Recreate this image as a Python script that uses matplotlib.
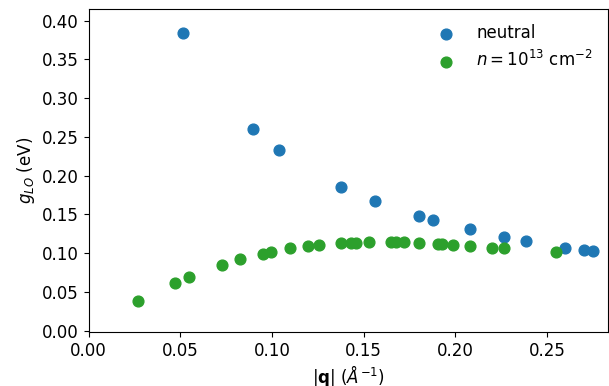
import matplotlib
matplotlib.use('Agg')
import matplotlib.pyplot as plt

# neutral
q_neutral = [0.0516, 0.0897, 0.1037, 0.1376, 0.1560, 0.1800, 0.1876,
             0.2081, 0.2265, 0.2384, 0.2600, 0.2702, 0.2753]
g_neutral = [0.3846, 0.2603, 0.2329, 0.1859, 0.1670, 0.1478, 0.1427,
             0.1308, 0.1214, 0.1163, 0.1073, 0.1042, 0.1026]

# doped, n = 1e13 cm^-2
q_doped = [0.0271, 0.0473, 0.0548, 0.0726, 0.0824, 0.0950, 0.0992,
           0.1099, 0.1197, 0.1259, 0.1376, 0.1430, 0.1456, 0.1530,
           0.1647, 0.1676, 0.1720, 0.1803, 0.1907, 0.1928, 0.1985,
           0.2080, 0.2201, 0.2265, 0.2549]
g_doped = [0.0380, 0.0620, 0.0700, 0.0850, 0.0920, 0.0996, 0.1017,
           0.1064, 0.1094, 0.1107, 0.1130, 0.1137, 0.1137, 0.1141,
           0.1141, 0.1141, 0.1141, 0.1132, 0.1124, 0.1124, 0.1111,
           0.1094, 0.1073, 0.1073, 0.1013]

plt.rcParams['font.size'] = 12

fig, ax = plt.subplots(figsize=(6.09, 3.86), dpi=100)
ax.scatter(q_neutral, g_neutral, s=60, color='#1f77b4', label='neutral')
ax.scatter(q_doped, g_doped, s=60, color='#2ca02c', label=r'$n = 10^{13}$ cm$^{-2}$')

ax.set_xlim(0, 0.2832)
ax.set_ylim(-0.002, 0.415)
ax.set_yticks([0.0, 0.05, 0.10, 0.15, 0.20, 0.25, 0.30, 0.35, 0.40])
ax.yaxis.set_major_formatter(matplotlib.ticker.FormatStrFormatter('%.2f'))
ax.xaxis.set_major_formatter(matplotlib.ticker.FormatStrFormatter('%.2f'))
ax.set_xlabel(r'$|\mathbf{q}|$ ($\AA^{-1}$)', labelpad=2)
ax.set_ylabel(r'$g_{LO}$ (eV)')
ax.legend(frameon=False, loc='upper right')

plt.subplots_adjust(left=0.1456, right=0.998, top=0.9767, bottom=0.139)
plt.savefig('out.png', dpi=100)
